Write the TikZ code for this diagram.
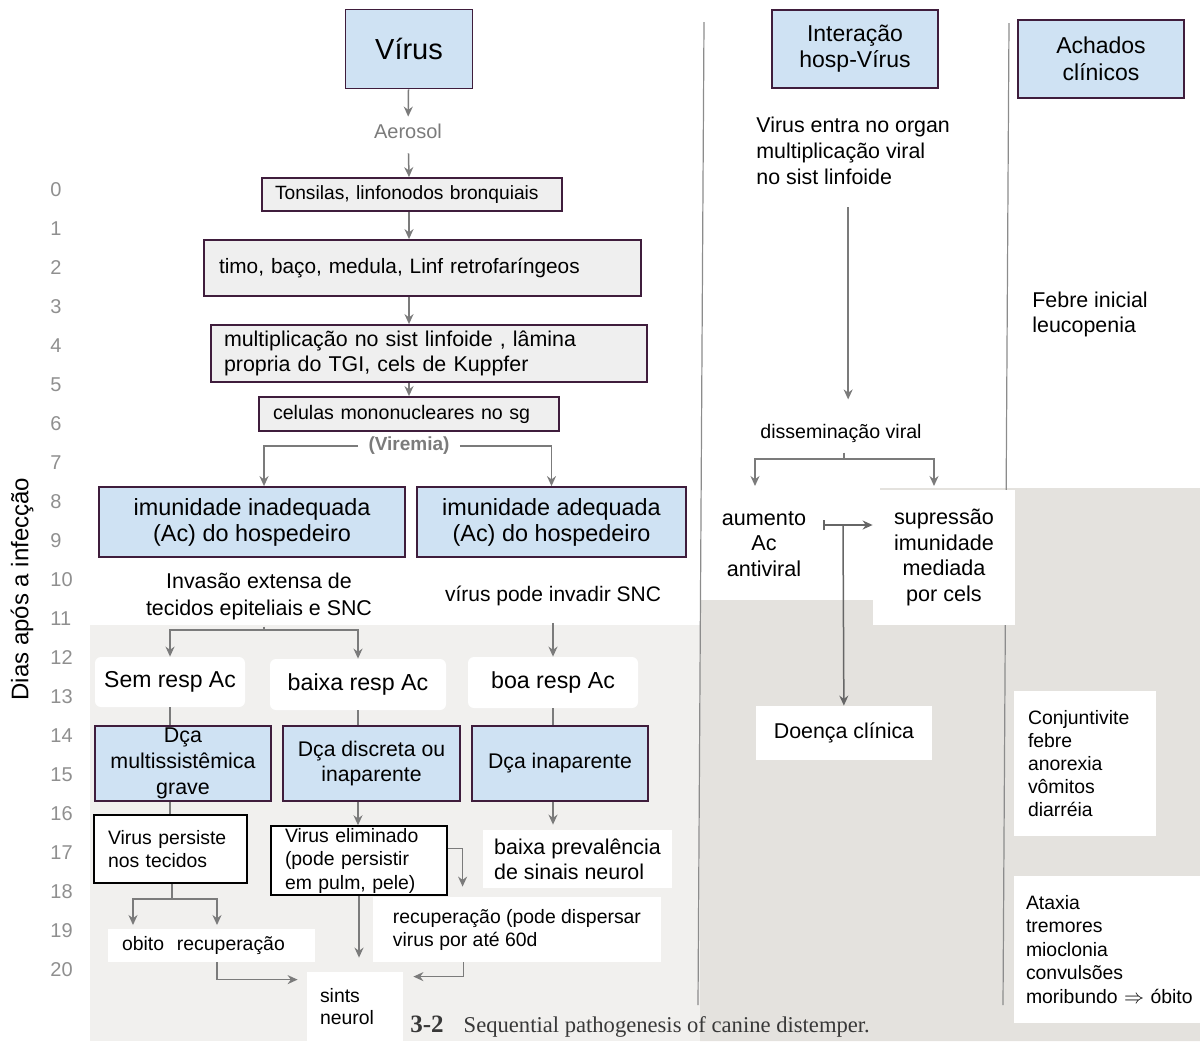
\documentclass[tikz,border=0pt]{standalone}
\usepackage{fontspec}
\setmainfont{Liberation Sans}
\newfontfamily\capfont{Liberation Serif}
\usetikzlibrary{arrows.meta, positioning}
\definecolor{boxblue}{HTML}{CFE2F3}
\definecolor{boxgray}{HTML}{EFEFEF}
\definecolor{boxline}{HTML}{3F1D3C}
\definecolor{arrgray}{HTML}{7B7B7B}
\definecolor{numgray}{HTML}{8F8F8F}
\definecolor{scanleft}{HTML}{F1F0EE}
\definecolor{scanright}{HTML}{E4E2DE}
\newcommand{\fsz}[2]{\fontsize{#1}{#2}\selectfont}
\tikzset{
  bluebox/.style={rectangle, draw=boxline, fill=boxblue, line width=0.9pt, align=center, inner sep=0pt},
  graybox/.style={rectangle, draw=boxline, fill=boxgray, line width=0.9pt, align=left, inner ysep=0pt},
  outbox/.style={rectangle, draw=black, fill=white, line width=0.75pt, align=left, inner ysep=0pt},
  whitebox/.style={rectangle, fill=white, inner sep=0pt},
  flowarr/.style={draw=arrgray, line width=0.75pt, -{Stealth[length=5pt, width=4.5pt]}},
  flowline/.style={draw=arrgray, line width=0.75pt},
  colsep/.style={draw=black!45, line width=0.6pt},
  daynum/.style={text=numgray, font=\fsz{10pt}{12pt}, anchor=west, inner sep=0pt},
}
\begin{document}
\begin{tikzpicture}[x=0.5pt, y=-0.5pt]
\useasboundingbox (0,0) rectangle (1200,1041);
% scanned page under the slide
\fill[scanleft] (90,625) rectangle (700,1041);
\fill[scanright] (700,600) -- (880,600) -- (880,488) -- (1200,488) -- (1200,1041) -- (700,1041) -- cycle;
\draw[colsep] (704,22) -- (698,1005);
\draw[colsep] (1009,23) -- (1003,1005);

% time axis
\node[rotate=90, font=\fsz{12pt}{14pt}] (dias) at (22,589) {Dias após a infecção};
\foreach \d in {0,...,20}
  \node[daynum] (day\d) at (50,{190+39*\d}) {\d};

% pathogenesis
\coordinate (axis) at (409,0);
\node[bluebox, minimum width=63.5pt, minimum height=39.5pt, font=\fsz{14.5pt}{17pt}] (virus) at (409,49) {Vírus};
\node[text=arrgray, font=\fsz{10pt}{12pt}] (aerosol) at (408,131) {Aerosol};
\node[graybox, text width=137pt, inner xsep=6.5pt, minimum height=16.5pt, font=\fsz{9.6pt}{11pt}] (tons) at (412,194.5) {Tonsilas, linfonodos bronquiais};
\node[graybox, text width=203.5pt, inner xsep=7.5pt, minimum height=28pt, font=\fsz{10.4pt}{12pt}] (timo) at (422.5,268) {timo, baço, medula, Linf retrofaríngeos};
\node[graybox, text width=205pt, inner xsep=6.5pt, minimum height=28.5pt, font=\fsz{10.7pt}{12.5pt}] (mult) at (429,353.5) {multiplicação no sist linfoide , lâmina\\propria do TGI, cels de Kuppfer};
\node[graybox, text width=136pt, inner xsep=7pt, minimum height=17pt, font=\fsz{9.8pt}{11pt}] (cel) at (409,414) {celulas mononucleares no sg};
\node[text=arrgray, inner xsep=5pt, font=\bfseries\fsz{9.5pt}{11pt}] (viremia) at (409,446) {(Viremia)};
\node[bluebox, minimum width=153pt, minimum height=35pt, font=\fsz{11.7pt}{13pt}] (inad) at (252,522) {imunidade inadequada\\(Ac) do hospedeiro};
\node[bluebox, minimum width=134.5pt, minimum height=35pt, font=\fsz{11.7pt}{13pt}] (adeq) at (551.5,522) {imunidade adequada\\(Ac) do hospedeiro};
\node[align=center, font=\fsz{10.7pt}{13.5pt}] (invasao) at (259,596) {Invasão extensa de\\tecidos epiteliais e SNC};
\node[font=\fsz{10.5pt}{12pt}] (invadir) at (553,596) {vírus pode invadir SNC};
\node[whitebox, rounded corners=3pt, minimum width=75pt, minimum height=25pt, font=\fsz{11.5pt}{13pt}] (semresp) at (170,682) {Sem resp Ac};
\node[whitebox, rounded corners=3pt, minimum width=88pt, minimum height=25.5pt, font=\fsz{11.6pt}{13pt}] (baixaresp) at (358,684.5) {baixa resp Ac};
\node[whitebox, rounded corners=3pt, minimum width=85pt, minimum height=25.5pt, font=\fsz{11.6pt}{13pt}] (boaresp) at (553,682.5) {boa resp Ac};
\node[bluebox, minimum width=88pt, minimum height=37.5pt, font=\fsz{10.7pt}{13pt}] (dmulti) at (183,763.5) {Dça\\multissistêmica\\grave};
\node[bluebox, minimum width=88.5pt, minimum height=37.5pt, font=\fsz{10.6pt}{13pt}] (ddisc) at (371.5,763.5) {Dça discreta ou\\inaparente};
\node[bluebox, minimum width=88pt, minimum height=37.5pt, font=\fsz{10.6pt}{13pt}] (dinap) at (560,763.5) {Dça inaparente};
\node[outbox, text width=62.5pt, inner xsep=7pt, minimum height=34pt, font=\fsz{9.7pt}{11.2pt}] (vpersist) at (170.5,849) {Virus persiste\\nos tecidos};
\node[outbox, text width=74pt, inner xsep=7pt, minimum height=34.5pt, font=\fsz{9.7pt}{11.75pt}] (velim) at (359,860.5) {Virus eliminado\\(pode persistir\\em pulm, pele)};
\node[whitebox, align=left, minimum width=94.5pt, minimum height=29pt, font=\fsz{10.7pt}{12.5pt}] (bprev) at (577.5,859) {baixa prevalência\\de sinais neurol};
\node[whitebox, align=left, minimum width=144pt, minimum height=32.5pt, font=\fsz{9.7pt}{11.5pt}] (recup) at (517,929.5) {recuperação (pode dispersar\\virus por até 60d};
\node[whitebox, text width=89.5pt, inner xsep=7pt, minimum height=16.5pt, align=left, font=\fsz{9.7pt}{11pt}] (obitorec) at (211.5,945.5) {obito\ \ recuperação};
\node[whitebox, text width=35pt, inner xsep=6.5pt, minimum height=34.5pt, align=left, font=\fsz{9.7pt}{11pt}] (sints) at (355,1006.5) {sints\\neurol};
\node[anchor=west, inner sep=0pt, text=black!78] (caption) at (410,1027) {\capfont\fsz{12.5pt}{14pt}\textbf{3-2}\hspace{10pt}\fsz{11.3pt}{13pt}Sequential pathogenesis of canine distemper.};

\draw[flowarr] (virus) -- (aerosol);
\draw[flowarr, shorten <=4pt] (aerosol) -- (axis |- tons.north);
\draw[flowarr] (axis |- tons.south) -- (axis |- timo.north);
\draw[flowarr] (axis |- timo.south) -- (axis |- mult.north);
\draw[flowarr] (axis |- mult.south) -- (axis |- cel.north);
\draw[flowarr] (viremia) -| ([xshift=6pt]inad.north);
\draw[flowarr] (viremia) -| (adeq.north);
\coordinate (invj) at (264,630);
\draw[flowline] (invasao.south -| invj) -- (invj);
\draw[flowarr] (invj) -| (semresp.north);
\draw[flowarr] (invj) -| (baixaresp.north);
\draw[flowarr, shorten <=5pt] (invadir) -- (boaresp);
\draw[flowline] (semresp) -- (semresp.south |- dmulti.north);
\draw[flowline] (baixaresp) -- (baixaresp.south |- ddisc.north);
\draw[flowline] (boaresp) -- (boaresp.south |- dinap.north);
\draw[flowline] (semresp.south |- dmulti.south) -- (semresp.south |- vpersist.north);
\draw[flowarr] (baixaresp.south |- ddisc.south) -- (baixaresp.south |- velim.north);
\draw[flowarr] ([xshift=-3.5pt]dinap.south) -- ([xshift=-3.5pt, yshift=2.5pt]dinap.south |- bprev.north);
\coordinate (persj) at (172,899);
\coordinate (tobito) at (133,925);
\coordinate (trecup) at (217,925);
\draw[flowline] (persj |- vpersist.south) -- (persj);
\draw[flowarr] (persj) -| (tobito);
\draw[flowarr] (persj) -| (trecup);
\draw[flowarr] (trecup |- obitorec.south) |- ([xshift=-4.5pt, yshift=-4pt]sints.north west);
\draw[flowarr] (velim) -- ([yshift=7pt]velim.south |- sints.north);
\draw[flowarr] ([yshift=6pt]velim.east) -| ([xshift=45pt, yshift=5pt]recup.north west);
\draw[flowarr] ([xshift=45.5pt]recup.south west) |- ([xshift=5pt, yshift=-2.5pt]sints.north east);

% host-virus column
\node[bluebox, minimum width=83pt, minimum height=39pt, font=\fsz{11.5pt}{13pt}] (inter) at (855,49) {Interação\\hosp-Vírus};
\node[anchor=west, align=left, inner sep=0pt, font=\fsz{10.7pt}{13pt}] (entra) at (756,151) {Virus entra no organ\\multiplicação viral\\no sist linfoide};
\node[inner sep=0pt, font=\fsz{9.8pt}{11pt}] (dissem) at (841,433) {disseminação viral};
\node[whitebox, inner sep=5pt, align=center, font=\fsz{10.8pt}{12.75pt}] (aum) at (764,544) {aumento\\Ac\\antiviral};
\node[whitebox, minimum width=71pt, minimum height=67.5pt, align=center, font=\fsz{10.8pt}{12.75pt}] (sup) at (944,557.5) {supressão\\imunidade\\mediada\\por cels};
\node[whitebox, minimum width=88pt, minimum height=27pt, font=\fsz{10.7pt}{12pt}] (doenca) at (844,733) {Doença clínica};

\draw[flowarr, shorten <=11pt, shorten >=12pt] ([xshift=-2.5pt]entra.south) -- ([xshift=-2.5pt]entra.south |- dissem.north);
\coordinate (dissj) at (844,459);
\coordinate (taum) at (755,486);
\coordinate (tsup) at (934,486);
\draw[flowline, shorten <=5pt] (dissem.south -| dissj) -- (dissj);
\draw[flowarr] (dissj) -| (taum);
\draw[flowarr] (dissj) -| (tsup);
\coordinate (abar) at (823,525);
\coordinate (amid) at (843,525);
\draw[draw=black!60, line width=0.75pt, {Bar[width=5pt]}-{Stealth[length=5pt, width=4.5pt]}] (abar) -- (sup.west |- abar);
\draw[draw=black!60, line width=0.75pt, -{Stealth[length=5pt, width=4.5pt]}] (amid) -- (doenca);

% clinical findings column
\node[bluebox, minimum width=83pt, minimum height=39pt, font=\fsz{11.5pt}{13.5pt}] (achados) at (1101,59) {Achados\\clínicos};
\node[anchor=west, align=left, inner sep=0pt, font=\fsz{10.7pt}{12.5pt}] (febre) at (1032,314.5) {Febre inicial\\leucopenia};
\node[whitebox, text width=57pt, inner xsep=7pt, minimum height=72.5pt, align=left, font=\fsz{9.7pt}{11.5pt}] (conj) at (1085,763.5) {Conjuntivite\\febre\\anorexia\\vômitos\\diarréia};
\node[whitebox, text width=81pt, inner xsep=6pt, minimum height=73.5pt, align=left, font=\fsz{9.7pt}{11.75pt}] (atax) at (1107,949.5) {Ataxia\\tremores\\mioclonia\\convulsões\\\mbox{moribundo $\Rightarrow$ óbito}};
\end{tikzpicture}
\end{document}
